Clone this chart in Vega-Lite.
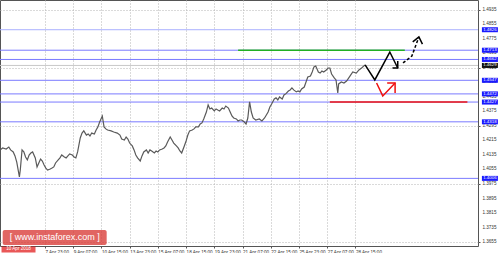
{
  "$schema": "https://vega.github.io/schema/vega-lite/v6.json",
  "width": 478,
  "height": 246,
  "autosize": {"type": "none"},
  "padding": {"left": 0, "top": 0, "right": 22, "bottom": 7},
  "background": "white",
  "config": {
    "view": {"stroke": "#555", "strokeWidth": 1},
    "axis": {"labelFont": "Liberation Sans", "labelFontSize": 4.6, "labelColor": "#333", "tickColor": "#555", "domain": false, "gridColor": "#b4b4b4", "gridDash": [1, 2], "tickSize": 2, "labelOverlap": false}
  },
  "datasets": {
    "price": [
      {"h":0,"p":1.4163},{"h":3,"p":1.4174},{"h":7,"p":1.4168},{"h":10,"p":1.4179},{"h":12,"p":1.4163},{"h":15,"p":1.4152},{"h":17,"p":1.4130},{"h":19,"p":1.4096},{"h":22,"p":1.4014},{"h":23,"p":1.4052},
      {"h":25,"p":1.4163},{"h":27,"p":1.4152},{"h":29,"p":1.4124},{"h":31,"p":1.4108},{"h":33,"p":1.4135},{"h":35,"p":1.4146},{"h":37,"p":1.4152},{"h":40,"p":1.4119},{"h":42,"p":1.4069},{"h":44,"p":1.4091},
      {"h":46,"p":1.4113},{"h":48,"p":1.4102},{"h":50,"p":1.4080},{"h":52,"p":1.4063},{"h":54,"p":1.4052},{"h":57,"p":1.4058},{"h":59,"p":1.4063},{"h":61,"p":1.4069},{"h":63,"p":1.4091},{"h":66,"p":1.4108},
      {"h":68,"p":1.4119},{"h":70,"p":1.4135},{"h":73,"p":1.4124},{"h":75,"p":1.4119},{"h":77,"p":1.4130},{"h":79,"p":1.4141},{"h":82,"p":1.4135},{"h":84,"p":1.4124},{"h":86,"p":1.4119},{"h":88,"p":1.4152},
      {"h":91,"p":1.4229},{"h":93,"p":1.4256},{"h":95,"p":1.4268},{"h":98,"p":1.4245},{"h":100,"p":1.4251},{"h":102,"p":1.4240},{"h":104,"p":1.4256},{"h":107,"p":1.4251},{"h":109,"p":1.4273},{"h":111,"p":1.4290},
      {"h":113,"p":1.4317},{"h":116,"p":1.4350},{"h":118,"p":1.4290},{"h":120,"p":1.4279},{"h":122,"p":1.4273},{"h":126,"p":1.4268},{"h":129,"p":1.4262},{"h":133,"p":1.4256},{"h":136,"p":1.4245},{"h":138,"p":1.4223},
      {"h":141,"p":1.4218},{"h":143,"p":1.4234},{"h":145,"p":1.4223},{"h":147,"p":1.4201},{"h":150,"p":1.4185},{"h":152,"p":1.4163},{"h":154,"p":1.4135},{"h":156,"p":1.4119},{"h":159,"p":1.4102},{"h":161,"p":1.4130},
      {"h":163,"p":1.4152},{"h":166,"p":1.4163},{"h":168,"p":1.4146},{"h":170,"p":1.4163},{"h":172,"p":1.4157},{"h":175,"p":1.4146},{"h":177,"p":1.4157},{"h":179,"p":1.4152},{"h":181,"p":1.4163},{"h":184,"p":1.4168},
      {"h":186,"p":1.4174},{"h":188,"p":1.4185},{"h":190,"p":1.4207},{"h":193,"p":1.4234},{"h":195,"p":1.4218},{"h":197,"p":1.4201},{"h":200,"p":1.4185},{"h":202,"p":1.4174},{"h":204,"p":1.4157},{"h":206,"p":1.4146},
      {"h":209,"p":1.4185},{"h":211,"p":1.4212},{"h":213,"p":1.4245},{"h":215,"p":1.4268},{"h":218,"p":1.4273},{"h":220,"p":1.4279},{"h":222,"p":1.4290},{"h":225,"p":1.4290},{"h":227,"p":1.4306},{"h":229,"p":1.4312},
      {"h":231,"p":1.4334},{"h":234,"p":1.4372},{"h":236,"p":1.4411},{"h":238,"p":1.4389},{"h":240,"p":1.4394},{"h":243,"p":1.4378},{"h":245,"p":1.4389},{"h":247,"p":1.4383},{"h":249,"p":1.4378},{"h":252,"p":1.4394},
      {"h":254,"p":1.4389},{"h":256,"p":1.4405},{"h":259,"p":1.4394},{"h":261,"p":1.4372},{"h":263,"p":1.4350},{"h":265,"p":1.4339},{"h":268,"p":1.4334},{"h":270,"p":1.4323},{"h":272,"p":1.4328},{"h":274,"p":1.4328},
      {"h":277,"p":1.4317},{"h":279,"p":1.4306},{"h":281,"p":1.4339},{"h":283,"p":1.4428},{"h":285,"p":1.4372},{"h":287,"p":1.4339},{"h":290,"p":1.4328},{"h":294,"p":1.4334},{"h":297,"p":1.4323},{"h":300,"p":1.4339},
      {"h":304,"p":1.4372},{"h":306,"p":1.4400},{"h":308,"p":1.4416},{"h":311,"p":1.4444},{"h":313,"p":1.4450},{"h":315,"p":1.4439},{"h":317,"p":1.4455},{"h":320,"p":1.4444},{"h":322,"p":1.4466},{"h":324,"p":1.4472},
      {"h":327,"p":1.4488},{"h":329,"p":1.4494},{"h":331,"p":1.4505},{"h":333,"p":1.4494},{"h":336,"p":1.4483},{"h":338,"p":1.4488},{"h":340,"p":1.4483},{"h":342,"p":1.4499},{"h":345,"p":1.4510},{"h":347,"p":1.4538},
      {"h":349,"p":1.4565},{"h":352,"p":1.4571},{"h":354,"p":1.4593},{"h":356,"p":1.4621},{"h":358,"p":1.4626},{"h":361,"p":1.4593},{"h":363,"p":1.4587},{"h":365,"p":1.4598},{"h":367,"p":1.4593},{"h":370,"p":1.4604},
      {"h":372,"p":1.4615},{"h":374,"p":1.4615},{"h":376,"p":1.4582},{"h":379,"p":1.4560},{"h":381,"p":1.4549},{"h":383,"p":1.4477},{"h":384,"p":1.4527},{"h":387,"p":1.4538},{"h":390,"p":1.4532},{"h":393,"p":1.4543},
      {"h":397,"p":1.4571},{"h":400,"p":1.4593},{"h":404,"p":1.4587},{"h":407,"p":1.4604},{"h":410,"p":1.4615},{"h":414,"p":1.4632}
    ],
    "levels": [
      {"p":1.4826,"c":"#aab0ff"},{"p":1.4713,"c":"#7b7bff"},{"p":1.4662,"c":"#7b7bff"},{"p":1.4629,"c":"#c8c8c8"},{"p":1.4547,"c":"#7b7bff"},
      {"p":1.4472,"c":"#7b7bff"},{"p":1.4427,"c":"#7b7bff"},{"p":1.4318,"c":"#7b7bff"},{"p":1.4006,"c":"#7b7bff"}
    ],
    "segments": [
      {"h1":270,"h2":459,"p":1.4713,"c":"#22b022"},
      {"h1":374,"h2":530,"p":1.4427,"c":"#ee1111"}
    ],
    "blackSolid": [
      {"s":"a","o":1,"h":414,"p":1.4632},{"s":"a","o":2,"h":425,"p":1.4549},{"s":"a","o":3,"h":442,"p":1.4703},{"s":"a","o":4,"h":451,"p":1.4615},
      {"s":"b","o":1,"h":451,"p":1.4654},{"s":"b","o":2,"h":451,"p":1.4615},{"s":"b","o":3,"h":445,"p":1.4615},
      {"s":"c","o":1,"h":468,"p":1.4759},{"s":"c","o":2,"h":475,"p":1.4786},{"s":"c","o":3,"h":479,"p":1.4747}
    ],
    "blackDashed": [
      {"o":1,"h":457,"p":1.4643},{"o":2,"h":467,"p":1.4681},{"o":3,"h":475,"p":1.4786}
    ],
    "redArrow": [
      {"s":"a","o":1,"h":427,"p":1.4532},{"s":"a","o":2,"h":434,"p":1.4461},{"s":"a","o":3,"h":448,"p":1.4532},
      {"s":"b","o":1,"h":439,"p":1.4532},{"s":"b","o":2,"h":448,"p":1.4532},{"s":"b","o":3,"h":448,"p":1.4477}
    ],
    "yticks": [
      {"p":1.3655,"t":"1.3655"},{"p":1.3735,"t":"1.3735"},{"p":1.3815,"t":"1.3815"},{"p":1.3895,"t":"1.3895"},{"p":1.3975,"t":"1.3975"},
      {"p":1.4055,"t":"1.4055"},{"p":1.4135,"t":"1.4135"},{"p":1.4215,"t":"1.4215"},{"p":1.4295,"t":"1.4295"},{"p":1.4375,"t":"1.4375"},
      {"p":1.4455,"t":"1.4455"},{"p":1.4535,"t":"1.4535"},{"p":1.4615,"t":"1.4615"},{"p":1.4695,"t":"1.4695"},{"p":1.4775,"t":"1.4775"},
      {"p":1.4855,"t":"1.4855"},{"p":1.4935,"t":"1.4935"}
    ],
    "tags": [
      {"p":1.4826,"t":"1.4826","bg":"#1a1aff"},{"p":1.4713,"t":"1.4713","bg":"#1a1aff"},{"p":1.4662,"t":"1.4662","bg":"#1a1aff"},
      {"p":1.4629,"t":"1.4629","bg":"#111111"},{"p":1.4547,"t":"1.4547","bg":"#1a1aff"},{"p":1.4472,"t":"1.4472","bg":"#1a1aff"},
      {"p":1.4427,"t":"1.4427","bg":"#1a1aff"},{"p":1.4318,"t":"1.4318","bg":"#1a1aff"},{"p":1.4006,"t":"1.4006","bg":"#1a1aff"}
    ]
  },
  "layer": [
    {
      "data": {"name": "levels"},
      "mark": {"type": "rule", "strokeWidth": 1},
      "encoding": {
        "y": {"field": "p", "type": "quantitative", "title": null, "scale": {"domain": [1.3633, 1.4990], "nice": false, "zero": false},
              "axis": {"orient": "right", "title": null, "values": [1.3655,1.3735,1.3815,1.3895,1.3975,1.4055,1.4135,1.4215,1.4295,1.4375,1.4455,1.4535,1.4615,1.4695,1.4775,1.4855,1.4935], "labels": false, "grid": true}},
        "color": {"field": "c", "type": "nominal", "scale": null}
      }
    },
    {
      "data": {"name": "price"},
      "mark": {"type": "line", "color": "#5a5a5a", "strokeWidth": 1.2},
      "encoding": {
        "x": {"field": "h", "type": "quantitative", "title": null, "scale": {"domain": [0, 542], "nice": false, "zero": false},
              "axis": {"title": null, "values": [51,83,115,147,179,211,243,275,307,339,371,403], "labelAlign": "left", "labelPadding": 1, "labelOverlap": false, "labelFlush": false, "grid": true,
                       "labelExpr": "datum.value==51?'7 Apr 23:00':datum.value==83?'9 Apr 07:00':datum.value==115?'10 Apr 15:00':datum.value==147?'13 Apr 23:00':datum.value==179?'15 Apr 07:00':datum.value==211?'18 Apr 15:00':datum.value==243?'19 Apr 23:00':datum.value==275?'21 Apr 07:00':datum.value==307?'22 Apr 15:00':datum.value==339?'25 Apr 23:00':datum.value==371?'27 Apr 07:00':'28 Apr 15:00'"}},
        "y": {"field": "p", "type": "quantitative", "title": null}
      }
    },
    {
      "data": {"name": "segments"},
      "mark": {"type": "rule", "strokeWidth": 1.5},
      "encoding": {
        "x": {"field": "h1", "type": "quantitative", "title": null},
        "x2": {"field": "h2"},
        "y": {"field": "p", "type": "quantitative", "title": null},
        "color": {"field": "c", "type": "nominal", "scale": null}
      }
    },
    {
      "mark": {"type": "rule", "color": "#ee2222", "strokeWidth": 1},
      "encoding": {"x": {"datum": 19, "type": "quantitative"}}
    },
    {
      "data": {"name": "blackSolid"},
      "mark": {"type": "line", "color": "#000000", "strokeWidth": 1.5},
      "encoding": {
        "x": {"field": "h", "type": "quantitative", "title": null},
        "y": {"field": "p", "type": "quantitative", "title": null},
        "detail": {"field": "s"},
        "order": {"field": "o"}
      }
    },
    {
      "data": {"name": "blackDashed"},
      "mark": {"type": "line", "color": "#000000", "strokeWidth": 1.5, "strokeDash": [3, 2]},
      "encoding": {
        "x": {"field": "h", "type": "quantitative", "title": null},
        "y": {"field": "p", "type": "quantitative", "title": null},
        "order": {"field": "o"}
      }
    },
    {
      "data": {"name": "redArrow"},
      "mark": {"type": "line", "color": "#ee1111", "strokeWidth": 1.5},
      "encoding": {
        "x": {"field": "h", "type": "quantitative", "title": null},
        "y": {"field": "p", "type": "quantitative", "title": null},
        "detail": {"field": "s"},
        "order": {"field": "o"}
      }
    },
    {
      "data": {"name": "yticks"},
      "mark": {"type": "text", "color": "#333", "font": "Liberation Sans", "fontSize": 4.6, "align": "left", "baseline": "middle", "clip": false},
      "encoding": {
        "x": {"datum": 547, "type": "quantitative"},
        "y": {"field": "p", "type": "quantitative", "title": null},
        "text": {"field": "t"}
      }
    },
    {
      "data": {"name": "tags"},
      "mark": {"type": "tick", "orient": "horizontal", "size": 16, "thickness": 5, "clip": false, "opacity": 1},
      "encoding": {
        "x": {"datum": 555.5, "type": "quantitative"},
        "y": {"field": "p", "type": "quantitative", "title": null},
        "color": {"field": "bg", "type": "nominal", "scale": null}
      }
    },
    {
      "data": {"name": "tags"},
      "mark": {"type": "text", "color": "white", "font": "Liberation Sans", "fontSize": 4.4, "align": "center", "baseline": "middle", "clip": false},
      "encoding": {
        "x": {"datum": 555.5, "type": "quantitative"},
        "y": {"field": "p", "type": "quantitative", "title": null},
        "text": {"field": "t"}
      }
    },
    {
      "data": {"values": [{"t": "[ www.instaforex.com ]"}]},
      "mark": {"type": "tick", "orient": "horizontal", "size": 104, "thickness": 15, "color": "#d83a36", "opacity": 0.78, "cornerRadius": 2, "clip": false},
      "encoding": {
        "x": {"datum": 62, "type": "quantitative"},
        "y": {"datum": 1.3680, "type": "quantitative"}
      }
    },
    {
      "data": {"values": [{"t": "[ www.instaforex.com ]"}]},
      "mark": {"type": "text", "color": "white", "font": "Liberation Sans", "fontSize": 9, "align": "center", "baseline": "middle", "clip": false},
      "encoding": {
        "x": {"datum": 62, "type": "quantitative"},
        "y": {"datum": 1.3680, "type": "quantitative"},
        "text": {"field": "t"}
      }
    },
    {
      "data": {"values": [{"t": "10 Apr 2018"}]},
      "mark": {"type": "tick", "orient": "horizontal", "size": 34, "thickness": 6, "color": "#e01010", "clip": false},
      "encoding": {
        "x": {"datum": 21, "type": "quantitative"},
        "y": {"datum": 1.3614, "type": "quantitative"}
      }
    },
    {
      "data": {"values": [{"t": "10 Apr 2018"}]},
      "mark": {"type": "text", "color": "white", "font": "Liberation Sans", "fontSize": 4.6, "align": "center", "baseline": "middle", "clip": false},
      "encoding": {
        "x": {"datum": 21, "type": "quantitative"},
        "y": {"datum": 1.3614, "type": "quantitative"},
        "text": {"field": "t"}
      }
    }
  ]
}
